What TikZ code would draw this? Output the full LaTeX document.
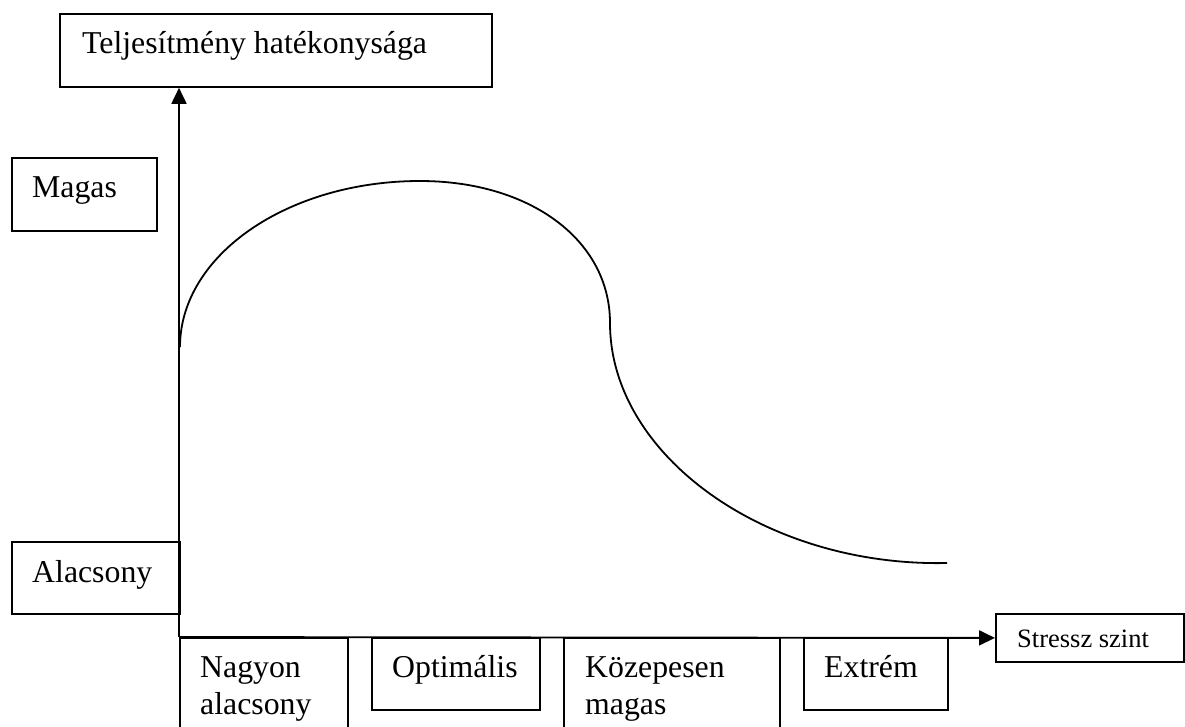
\documentclass[tikz,border=0pt]{standalone}
\usepackage{fontspec}
\setmainfont{Liberation Serif}
\usetikzlibrary{arrows.meta,calc}

\begin{document}
\begin{tikzpicture}[x=1pt,y=-1pt,
  box/.style={draw,line width=1.8pt,inner sep=0pt,anchor=north west},
  lbl/.style={anchor=base west,inner sep=0pt,font=\fontsize{31.8}{37.5}\selectfont},
  small/.style={anchor=base west,inner sep=0pt,font=\fontsize{26.5}{31}\selectfont},
  axisline/.style={line width=1.8pt,-{Triangle[length=16pt,width=15pt]}},
  curveline/.style={line width=1.8pt}]
\useasboundingbox (0,0) rectangle (1185,726);

% frames of the labels
\node[box,minimum width=432pt,minimum height=73pt] (top) at (59,13) {};
\node[box,minimum width=145pt,minimum height=73pt] (high) at (11,157) {};
\node[box,minimum width=168pt,minimum height=72pt] (low) at (11,541) {};
\node[box,minimum width=168pt,minimum height=120pt] (vlow) at (179,637) {};
\node[box,minimum width=168pt,minimum height=72pt] (opt) at (371,637) {};
\node[box,minimum width=216pt,minimum height=120pt] (mid) at (563,637) {};
\node[box,minimum width=144pt,minimum height=72pt] (ext) at (803,637) {};
\node[box,minimum width=188pt,minimum height=48pt] (lvl) at (995,613) {};

% texts
\node[lbl] (ttop) at ($(top.north west)+(23,40)$) {Teljesítmény hatékonysága};
\node[lbl] (thigh) at ($(high.north west)+(21,40)$) {Magas};
\node[lbl] (tlow) at ($(low.north west)+(21,41)$) {Alacsony};
\node[lbl] (tvlow) at ($(vlow.north west)+(21,40)$) {\begin{tabular}[t]{@{}l@{}}Nagyon\\alacsony\end{tabular}};
\node[lbl] (topt) at ($(opt.north west)+(21,40)$) {Optimális};
\node[lbl] (tmid) at ($(mid.north west)+(22,40)$) {\begin{tabular}[t]{@{}l@{}}Közepesen\\magas\end{tabular}};
\node[lbl] (text) at ($(ext.north west)+(21,40)$) {Extrém};
\node[small] (tlvl) at ($(lvl.north west)+(22,34)$) {Stressz szint};

% axes
\draw[axisline] (vlow.north west) -- (vlow.north west |- top.south);
\draw[axisline] (vlow.north west) -- (lvl.west);

% performance curve
\draw[curveline] (180,347) .. controls (180,255) and (288,181) .. (420,181)
  .. controls (530,181) and (610,240) .. (610,323)
  .. controls (610,455) and (765,567) .. (947,563);
\end{tikzpicture}
\end{document}
